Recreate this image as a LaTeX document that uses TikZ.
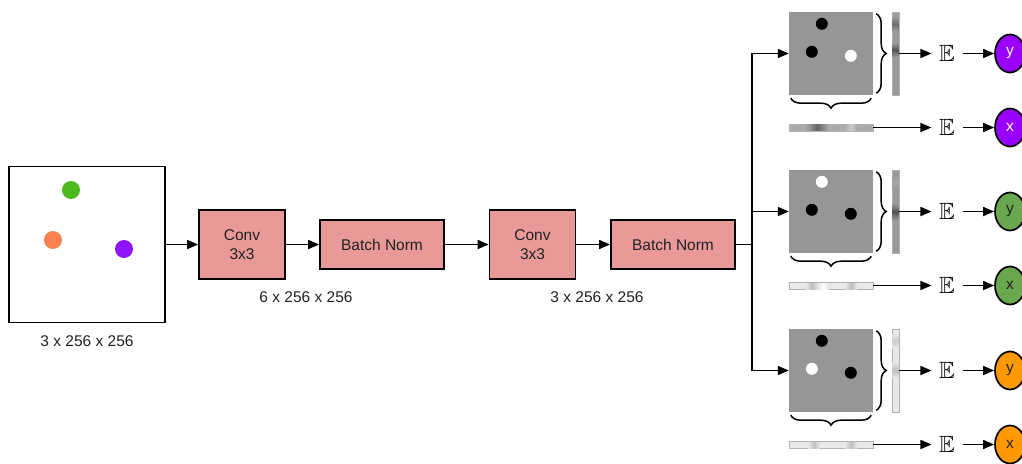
\documentclass[tikz,border=0pt]{standalone}
\usepackage{fontspec}
\setmainfont{Liberation Sans}
\usepackage{amssymb}
\usepackage{xcolor}
\usetikzlibrary{calc}
\usetikzlibrary{arrows.meta}
\usetikzlibrary{shapes.geometric}
\usetikzlibrary{decorations.pathreplacing}

\definecolor{boxred}{HTML}{EA9999}
\definecolor{dotgreen}{HTML}{4CB91F}
\definecolor{dotorange}{HTML}{FA8050}
\definecolor{dotpurple}{HTML}{9013FE}
\definecolor{sqgray}{HTML}{969696}
\definecolor{outpurple}{HTML}{9900FF}
\definecolor{outgreen}{HTML}{6AA84F}
\definecolor{outorange}{HTML}{FF9900}
\definecolor{txtdark}{HTML}{222222}
\definecolor{stripmid}{HTML}{9A9A9A}
\definecolor{stripdark}{HTML}{ACACAC}
\definecolor{striplight}{HTML}{E8E8E8}

\begin{document}
\begin{tikzpicture}[x=1pt,y=-1pt]

\def\lw{1.7pt}
\def\fs{\fontsize{15.5}{19}\selectfont}
\def\expt{\scalebox{2.35}{$\mathbb{E}$}}
\tikzset{
layer/.style = {draw=black, line width=\lw, fill=boxred, inner sep=0pt, align=center, font=\fs, text=txtdark},
conv/.style = {layer, minimum width=86pt, minimum height=69pt},
bnorm/.style = {layer, minimum width=124pt, minimum height=49pt},
dims/.style = {inner sep=0pt, font=\fs, text=txtdark},
flow/.style = {-{Triangle[length=11pt,width=9pt]}, line width=\lw},
expect/.style = {inner xsep=7.5pt, inner ysep=0pt},
outvar/.style = {ellipse, draw=black, line width=\lw, minimum width=30pt, minimum height=38pt, inner sep=0pt, font=\fs},
strip/.style = {inner sep=0pt, draw=gray!60, line width=0.6pt},
brace/.style = {decorate, decoration={brace, amplitude=10pt}, line width=1.5pt},
}

\useasboundingbox (0,0) rectangle (1022,463);

% input image
\node[draw, line width=\lw, minimum size=156pt, inner sep=0pt] (img) at (87,244.5) {};
\fill[dotgreen] (71,190) circle[radius=9pt];
\fill[dotorange] (53,240) circle[radius=9pt];
\fill[dotpurple] (124,249) circle[radius=9pt];
\node[dims] (imgdim) at (87,341) {3 x 256 x 256};

% layers
\node[conv] (conv1) at (242,244.5) {Conv\\3x3};
\node[bnorm] (bn1) at (382,244.5) {Batch Norm};
\node[conv] (conv2) at (532.5,244.5) {Conv\\3x3};
\node[bnorm] (bn2) at (673,244.5) {Batch Norm};
\node[dims] (dim1) at (306,297) {6 x 256 x 256};
\node[dims] (dim2) at (597,297) {3 x 256 x 256};

\draw[flow] (img) -- (conv1);
\draw[flow] (conv1) -- (bn1);
\draw[flow] (bn1) -- (conv2);
\draw[flow] (conv2) -- (bn2);

\coordinate (split) at (752,244.5);
\draw[line width=\lw] (bn2) -- (split);

% the three heads
\foreach \i/\yo/\ca/\cb/\cc/\vb/\hb/\oc/\tc in {
1/12/black/black/white/stripmid/stripdark/outpurple/white,
2/170/white/black/black/stripmid/striplight/outgreen/txtdark,
3/329/black/white/black/striplight/striplight/outorange/txtdark}
{
\node[fill=sqgray, minimum width=84pt, minimum height=83pt, inner sep=0pt] (sq\i) at (831,\yo+41.5) {};
\fill[\ca] ($(sq\i.north west)+(33,12)$) circle[radius=6pt];
\fill[\cb] ($(sq\i.north west)+(23,40)$) circle[radius=6pt];
\fill[\cc] ($(sq\i.north west)+(62,44)$) circle[radius=6pt];

\node[strip, fill=\vb, minimum width=7pt, minimum height=83pt] (vs\i) at (895.5,\yo+41.5) {};
\node[strip, fill=\hb, minimum width=84pt, minimum height=7pt] (hs\i) at (831,\yo+115.5) {};

\draw[brace] ($(sq\i.north east)+(3,2)$) -- ($(sq\i.south east)+(3,-2)$);
\draw[brace] ($(sq\i.south east)+(-2,3)$) -- ($(sq\i.south west)+(2,3)$);

\node[expect] (ey\i) at (947,\yo+41.5) {\expt};
\node[expect] (ex\i) at (947,\yo+115.5) {\expt};
\node[outvar, fill=\oc, text=\tc] (ny\i) at (1010,\yo+41.5) {y};
\node[outvar, fill=\oc, text=\tc] (nx\i) at (1010,\yo+115.5) {x};

\draw[flow] (split) |- (sq\i);
\draw[flow] (vs\i) -- (ey\i);
\draw[flow] (ey\i) -- (ny\i);
\draw[flow] (hs\i) -- (ex\i);
\draw[flow] (ex\i) -- (nx\i);
}

% projections along the strips
\shade[top color=stripmid, bottom color=stripmid, middle color=gray!85!black] (892.5,17) rectangle (898.5,31);
\shade[top color=stripmid, bottom color=stripmid, middle color=gray!65!black] (892.5,43) rectangle (898.5,57);
\shade[left color=stripdark, right color=stripdark, middle color=gray!80!black] (805,124.5) rectangle (829,130.5);
\shade[left color=stripdark, right color=stripdark, middle color=gray!40] (845,124.5) rectangle (857,130.5);

\shade[top color=stripmid, bottom color=stripmid, middle color=gray!70] (892.5,175) rectangle (898.5,189);
\shade[top color=stripmid, bottom color=stripmid, middle color=gray!65!black] (892.5,204) rectangle (898.5,220);
\shade[left color=striplight, right color=striplight, middle color=gray!50] (806,283.5) rectangle (818,289.5);
\shade[left color=striplight, right color=striplight, middle color=white] (818,283.5) rectangle (828,289.5);
\shade[left color=striplight, right color=striplight, middle color=gray!50] (845,283.5) rectangle (857,289.5);

\shade[top color=striplight, bottom color=striplight, middle color=gray!40] (892.5,334) rectangle (898.5,348);
\shade[top color=striplight, bottom color=striplight, middle color=gray!50] (892.5,362) rectangle (898.5,378);
\shade[left color=striplight, right color=striplight, middle color=gray!50] (808,442.5) rectangle (820,448.5);
\shade[left color=striplight, right color=striplight, middle color=gray!50] (845,442.5) rectangle (857,448.5);

\end{tikzpicture}
\end{document}
